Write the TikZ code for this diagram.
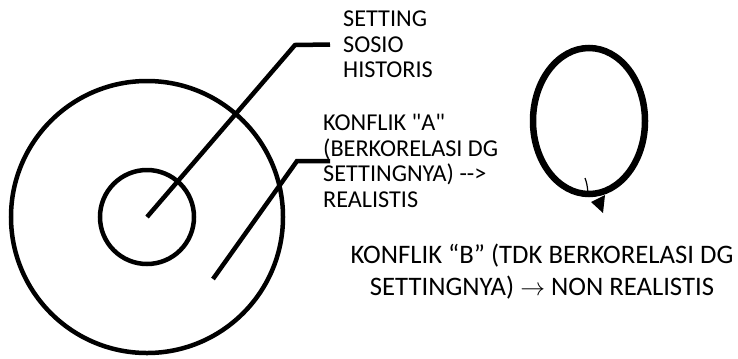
\documentclass[tikz,border=0pt]{standalone}
\usepackage{fontspec}
\setmainfont{Carlito}[Ligatures=TeXOff]
\begin{document}
\begin{tikzpicture}[x=1bp, y=-1bp,
  ring/.style={draw, circle, line width=4.5bp, inner sep=0pt},
  leader/.style={line width=4.5bp},
  tagtext/.style={inner sep=0pt, align=left, font=\fontsize{24.3}{25.6}\selectfont}]
  \useasboundingbox (0,0) rectangle (738,358);

  % Outer and inner circles
  \node[ring, minimum size=272bp] (outer) at (147,217) {};
  \node[ring, minimum size=94bp] (inner) at (147,217) {};

  % Labels
  \node[tagtext, anchor=west] (setting) at (343,44.5) {SETTING\\SOSIO\\HISTORIS};
  \node[tagtext, anchor=west] (konflikA) at (323,161) {KONFLIK "A"\\(BERKORELASI DG\\SETTINGNYA) -->\\REALISTIS};
  \node[tagtext, align=center, font=\fontsize{26.8}{32}\selectfont] (konflikB) at (542,272)
    {KONFLIK “B” (TDK BERKORELASI DG\\SETTINGNYA) $\rightarrow$ NON REALISTIS};

  % Leaders to the labels
  \draw[leader] (inner.center) -- (295,45) -- ([xshift=-13bp]setting.west);
  \coordinate (bstart) at (213,279);
  \draw[leader] (bstart) -- (297,161) -- ([xshift=7bp]konflikA.west);

  % Loop with arrow
  \draw[line width=6.5bp] (589,121) ellipse [x radius=56bp, y radius=73bp];
  \draw[line width=1.2bp] (585,178) .. controls (587,184) .. (588,193);
  \fill (591,202) -- (605,195) -- (603,213) -- cycle;
\end{tikzpicture}
\end{document}
